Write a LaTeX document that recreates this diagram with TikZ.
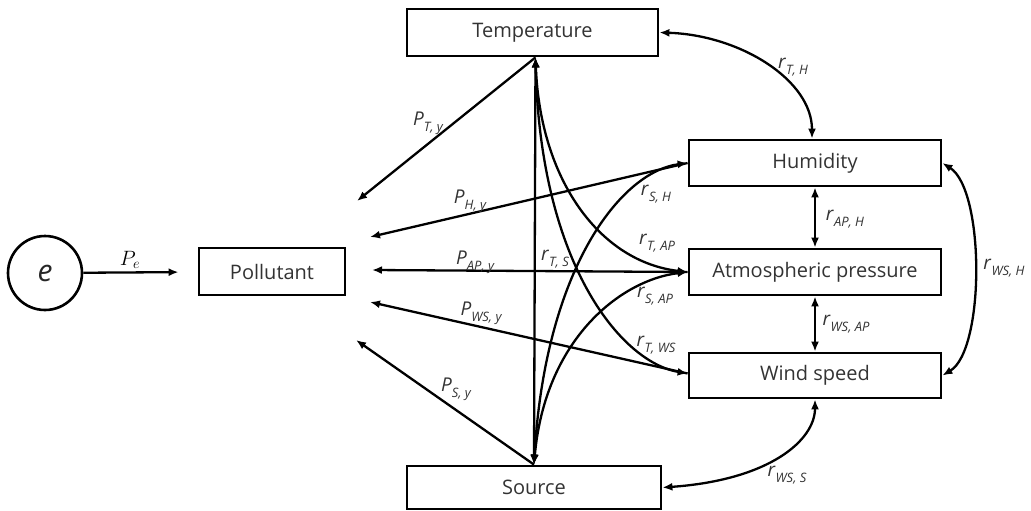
\documentclass[tikz,border=0pt]{standalone}
\usepackage{fontspec}
\setmainfont{Open Sans}
\usetikzlibrary{arrows.meta}
\newcommand\mylab[2]{\textit{#1}\raisebox{-0.55ex}{\fontsize{13}{15}\selectfont\itshape #2}}
\begin{document}
\begin{tikzpicture}[x=1pt,y=-1pt,
  box/.style={draw, line width=2.8pt, inner sep=0pt, text=black!80, font=\fontsize{20}{23}\selectfont},
  link/.style={line width=2.3pt},
  tip/.style={link,-{Latex[length=10pt,width=8pt]}},
  both/.style={link,{Latex[length=10pt,width=8pt]}-{Latex[length=10pt,width=8pt]}},
  lab/.style={font=\fontsize{19}{21}\selectfont, text=black!80, inner sep=1pt}]
\useasboundingbox (0,0) rectangle (1031,511);

% nodes
\node[draw, circle, line width=2.6pt, minimum size=74pt, inner sep=0pt,
      font=\fontsize{30}{32}\selectfont\itshape, text=black!85] (e) at (45,273) {e};
\node[box, minimum width=146pt, minimum height=47pt] (pol) at (272,271.5) {Pollutant};
\node[box, minimum width=251pt, minimum height=47pt] (T) at (532.5,32.5) {Temperature};
\node[box, minimum width=254pt, minimum height=43pt] (S) at (534,487.5) {Source};
\node[box, minimum width=252pt, minimum height=46pt] (H) at (815,163) {Humidity};
\node[box, minimum width=252pt, minimum height=46pt] (AP) at (815,272) {Atmospheric pressure};
\node[box, minimum width=252pt, minimum height=45pt] (WS) at (815,375.5) {Wind speed};

% free ends near pollutant
\coordinate (cT) at (357,201);
\coordinate (cH) at (370,237);
\coordinate (cAP) at (372,270);
\coordinate (cWS) at (370,302);
\coordinate (cS) at (356,340);

% error term
\draw[tip, shorten >=19pt] (e) -- (pol);
\node[font=\fontsize{20}{22}\selectfont] (lPe) at (130,260) {$P_e$};

% path coefficients
\draw[tip] ([xshift=3pt]T.south) -- (cT);
\draw[tip] (H.west) -- (cH);
\draw[tip] (AP.west) -- (cAP);
\draw[tip] ([yshift=2pt]WS.west) -- (cWS);
\draw[tip] (S.north) -- (cS);

% correlations from Temperature and Source
\draw[both] ([xshift=3pt]T.south) -- (S.north);
\draw[both] ([xshift=3pt]T.south) .. controls (540,180) and (600,262) .. (AP.west);
\draw[both] ([xshift=3pt]T.south) .. controls (540,262) and (620,362) .. ([yshift=2pt]WS.west);
\draw[both] (S.north) .. controls (545,340) and (620,280) .. (AP.west);
\draw[both] (S.north) .. controls (545,270) and (620,172) .. (H.west);

% outer correlations
\draw[both] (T.east) .. controls (740,35) and (812,80) .. ([xshift=-3pt]H.north);
\draw[both] (H.east) .. controls (985,190) and (985,350) .. (WS.east);
\draw[both] (S.east) .. controls (770,480) and (815,440) .. (WS.south);
\draw[both] (H.south) -- (AP.north);
\draw[both] (AP.south) -- (WS.north);

% labels
\node[lab] (lTy) at (428,123) {\mylab{P}{T, y}};
\node[lab] (lHy) at (470,201) {\mylab{P}{H, y}};
\node[lab] (lAPy) at (475,262) {\mylab{P}{AP, y}};
\node[lab] (lWSy) at (481,313) {\mylab{P}{WS, y}};
\node[lab] (lSy) at (456,389) {\mylab{P}{S, y}};
\node[lab] (lSH) at (656,194) {\mylab{r}{S, H}};
\node[lab] (lTAP) at (657,243) {\mylab{r}{T, AP}};
\node[lab] (lTS) at (555,259) {\mylab{r}{T, S}};
\node[lab] (lSAP) at (655,296) {\mylab{r}{S, AP}};
\node[lab] (lTWS) at (656,345) {\mylab{r}{T, WS}};
\node[lab] (lTH) at (793,67) {\mylab{r}{T, H}};
\node[lab] (lAPH) at (845,219) {\mylab{r}{AP, H}};
\node[lab] (lWSAP) at (846,324) {\mylab{r}{WS, AP}};
\node[lab] (lWSH) at (1004,268) {\mylab{r}{WS, H}};
\node[lab] (lWSS) at (787,475) {\mylab{r}{WS, S}};
\end{tikzpicture}
\end{document}
